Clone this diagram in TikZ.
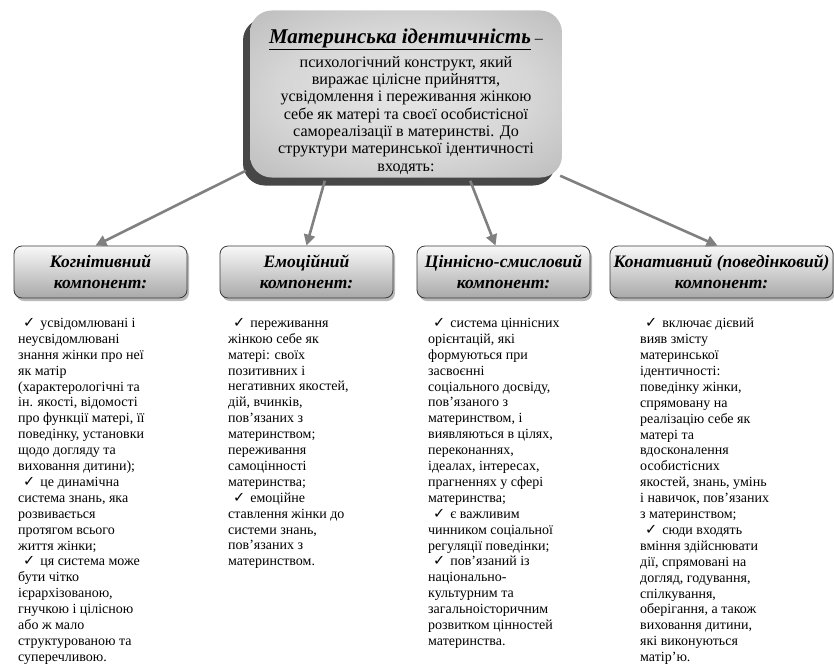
\documentclass[tikz,border=0pt]{standalone}
\usepackage{fontspec}
\setmainfont{Liberation Serif}
\newfontfamily\symfont{DejaVu Sans}
\usetikzlibrary{arrows.meta,shadows}

\newcommand{\chk}{\hspace*{5pt}{\symfont\fontsize{14.5}{14}\selectfont ✓}\hspace{5pt}}
\pgfdeclareradialshading{identshade}{\pgfpoint{0bp}{0bp}}{color(0bp)=(gray!20); color(20bp)=(gray!32); color(42bp)=(gray!60); color(71bp)=(gray!92)}

\tikzset{
  compbox/.style={draw=gray!45!black, line width=0.8pt, rounded corners=8pt,
    top color=gray!5, bottom color=gray!68, minimum height=52pt, align=center,
    inner sep=2pt, font=\fontsize{17.5}{20.5}\selectfont\bfseries\itshape,
    drop shadow={shadow xshift=2pt, shadow yshift=-3pt, fill=gray!55, opacity=1}},
  coltxt/.style={anchor=north west, inner sep=0pt, align=left,
    font=\fontsize{14}{15.9}\selectfont},
  arr/.style={draw=gray, line width=2.6pt, -{Triangle[length=11pt,width=11pt]}}
}

\begin{document}
\begin{tikzpicture}[x=1pt, y=-1pt]
  \useasboundingbox (0,0) rectangle (834,667);
  % definition
  \node[rounded corners=22pt, minimum width=312pt, minimum height=166pt,
    shading=identshade,
    drop shadow={shadow xshift=-7pt, shadow yshift=-8pt, fill=black!72, opacity=1},
    align=center, font=\fontsize{16.1}{17.3}\selectfont] (ident) at (406,94)
    {\rule{0pt}{30pt}{\fontsize{21}{22}\selectfont\underline{\textbf{\textit{Материнська ідентичність}}}} –\\[5pt]
     психологічний конструкт, який\\
     виражає цілісне прийняття,\\
     усвідомлення і переживання жінкою\\
     себе як матері та своєї особистісної\\
     самореалізації в материнстві. До\\
     структури материнської ідентичності\\
     входять:};
  % components
  \node[compbox, minimum width=173pt] (kog) at (100.5,272) {Когнітивний\\компонент:};
  \node[compbox, minimum width=173pt] (emo) at (306.5,272) {Емоційний\\компонент:};
  \node[compbox, minimum width=173pt] (cin) at (503.5,272) {Ціннісно-смисловий\\компонент:};
  \node[compbox, minimum width=223pt] (kon) at (721.5,272) {Конативний (поведінковий)\\компонент:};
  % arrows
  \draw[arr] ([xshift=-4pt, yshift=7pt]ident.south west) -- ([xshift=-5pt]kog.north);
  \draw[arr] ([xshift=75pt, yshift=-3pt]ident.south west) -- (emo.north);
  \draw[arr] ([xshift=-92pt, yshift=-3pt]ident.south east) -- ([xshift=-8pt]cin.north);
  \draw[arr] ([xshift=-2pt, yshift=2pt]ident.south east) -- ([xshift=-4pt]kon.north);
  % texts
  \node[coltxt] (kogtxt) at (18,318) {\chk усвідомлювані і\\
    неусвідомлювані\\
    знання жінки про неї\\
    як матір\\
    (характерологічні та\\
    ін. якості, відомості\\
    про функції матері, її\\
    поведінку, установки\\
    щодо догляду та\\
    виховання дитини);\\
    \chk це динамічна\\
    система знань, яка\\
    розвивається\\
    протягом всього\\
    життя жінки;\\
    \chk ця система може\\
    бути чітко\\
    ієрархізованою,\\
    гнучкою і цілісною\\
    або ж мало\\
    структурованою та\\
    суперечливою.};
  \node[coltxt] (emotxt) at (228,318) {\chk переживання\\
    жінкою себе як\\
    матері: своїх\\
    позитивних і\\
    негативних якостей,\\
    дій, вчинків,\\
    пов’язаних з\\
    материнством;\\
    переживання\\
    самоцінності\\
    материнства;\\
    \chk емоційне\\
    ставлення жінки до\\
    системи знань,\\
    пов’язаних з\\
    материнством.};
  \node[coltxt] (cintxt) at (428,318) {\chk система ціннісних\\
    орієнтацій, які\\
    формуються при\\
    засвоєнні\\
    соціального досвіду,\\
    пов’язаного з\\
    материнством, і\\
    виявляються в цілях,\\
    переконаннях,\\
    ідеалах, інтересах,\\
    прагненнях у сфері\\
    материнства;\\
    \chk є важливим\\
    чинником соціальної\\
    регуляції поведінки;\\
    \chk пов’язаний із\\
    національно-\\
    культурним та\\
    загальноісторичним\\
    розвитком цінностей\\
    материнства.};
  \node[coltxt] (kontxt) at (640,318) {\chk включає дієвий\\
    вияв змісту\\
    материнської\\
    ідентичності:\\
    поведінку жінки,\\
    спрямовану на\\
    реалізацію себе як\\
    матері та\\
    вдосконалення\\
    особистісних\\
    якостей, знань, умінь\\
    і навичок, пов’язаних\\
    з материнством;\\
    \chk сюди входять\\
    вміння здійснювати\\
    дії, спрямовані на\\
    догляд, годування,\\
    спілкування,\\
    оберігання, а також\\
    виховання дитини,\\
    які виконуються\\
    матір’ю.};
\end{tikzpicture}
\end{document}
